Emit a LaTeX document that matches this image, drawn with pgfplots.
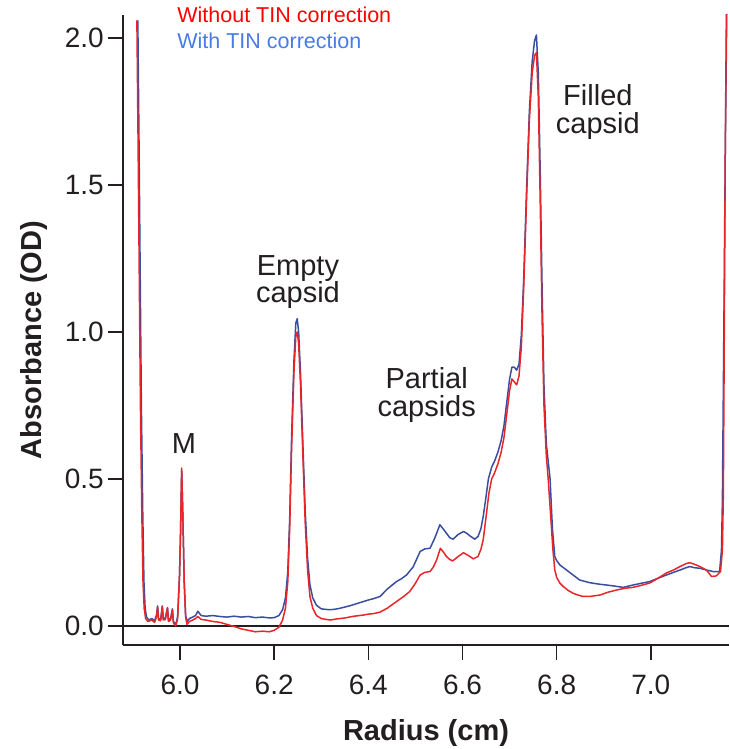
\documentclass[border=0pt]{standalone}
\usepackage{fontspec}
\setmainfont{Liberation Sans}
\usepackage{pgfplots}
\pgfplotsset{compat=1.18}
\usepackage{pgfplotstable}
\usetikzlibrary{calc}
\definecolor{redline}{RGB}{232,38,42}
\definecolor{blueline}{RGB}{58,78,160}
\definecolor{axisgray}{RGB}{35,31,32}
\definecolor{legred}{RGB}{255,0,0}
\definecolor{legblue}{RGB}{72,124,228}
\tikzset{annot/.style={font=\fontsize{29}{27.5}\selectfont, text=axisgray, inner sep=0pt, align=center}}

\pgfplotstableread{
x y
5.9085 2.060
5.9110 1.650
5.9135 1.200
5.9160 0.750
5.9190 0.380
5.9215 0.150
5.9240 0.060
5.9270 0.025
5.9320 0.015
5.9400 0.020
5.9460 0.012
5.9500 0.030
5.9525 0.065
5.9545 0.020
5.9590 0.018
5.9625 0.065
5.9645 0.020
5.9690 0.022
5.9735 0.060
5.9755 0.015
5.9800 0.020
5.9840 0.055
5.9860 0.010
5.9910 0.000
5.9950 0.025
5.9990 0.170
6.0010 0.300
6.0036 0.537
6.0060 0.380
6.0090 0.150
6.0120 0.030
6.0150 0.005
6.0200 0.015
6.0270 0.020
6.0330 0.025
6.0380 0.032
6.0450 0.022
6.0550 0.020
6.0700 0.015
6.0850 0.012
6.1000 0.005
6.1150 -0.002
6.1300 -0.010
6.1450 -0.015
6.1600 -0.020
6.1750 -0.018
6.1900 -0.020
6.2000 -0.015
6.2100 -0.005
6.2180 0.020
6.2240 0.060
6.2290 0.150
6.2330 0.330
6.2370 0.600
6.2420 0.860
6.2460 0.985
6.2490 1.000
6.2520 0.960
6.2560 0.820
6.2610 0.580
6.2660 0.350
6.2710 0.190
6.2760 0.100
6.2820 0.060
6.2900 0.035
6.3000 0.025
6.3100 0.022
6.3200 0.020
6.3300 0.023
6.3400 0.025
6.3500 0.027
6.3600 0.030
6.3700 0.033
6.3800 0.035
6.3900 0.037
6.4000 0.040
6.4120 0.042
6.4250 0.047
6.4400 0.060
6.4600 0.083
6.4750 0.100
6.4880 0.117
6.5000 0.145
6.5100 0.173
6.5200 0.182
6.5310 0.185
6.5380 0.200
6.5450 0.224
6.5530 0.264
6.5600 0.250
6.5660 0.236
6.5730 0.226
6.5790 0.221
6.5900 0.235
6.6020 0.249
6.6120 0.240
6.6230 0.228
6.6330 0.236
6.6390 0.260
6.6440 0.293
6.6500 0.370
6.6560 0.450
6.6620 0.500
6.6680 0.520
6.6750 0.550
6.6820 0.590
6.6880 0.640
6.6940 0.720
6.7000 0.800
6.7050 0.840
6.7100 0.830
6.7150 0.820
6.7200 0.850
6.7250 0.950
6.7300 1.150
6.7360 1.450
6.7420 1.720
6.7480 1.880
6.7530 1.940
6.7570 1.950
6.7610 1.800
6.7650 1.450
6.7690 1.050
6.7730 0.750
6.7780 0.580
6.7820 0.500
6.7870 0.380
6.7920 0.260
6.7960 0.190
6.8000 0.165
6.8070 0.145
6.8140 0.134
6.8250 0.120
6.8350 0.111
6.8450 0.105
6.8560 0.100
6.8700 0.100
6.8920 0.105
6.9100 0.115
6.9270 0.122
6.9450 0.128
6.9620 0.131
6.9800 0.138
6.9980 0.146
7.0150 0.162
7.0330 0.180
7.0480 0.190
7.0620 0.202
7.0750 0.212
7.0830 0.215
7.0920 0.210
7.1040 0.202
7.1180 0.190
7.1290 0.168
7.1390 0.170
7.1480 0.185
7.1520 0.258
7.1540 0.450
7.1560 1.000
7.1580 1.600
7.1610 2.200
}\redtable

\pgfplotstableread{
x y
5.9105 2.060
5.9130 1.650
5.9155 1.200
5.9180 0.750
5.9210 0.380
5.9235 0.150
5.9260 0.060
5.9290 0.030
5.9340 0.020
5.9400 0.025
5.9460 0.018
5.9500 0.035
5.9525 0.068
5.9545 0.025
5.9590 0.022
5.9625 0.068
5.9645 0.025
5.9690 0.027
5.9735 0.062
5.9755 0.020
5.9800 0.025
5.9840 0.058
5.9860 0.015
5.9910 0.005
5.9950 0.030
5.9990 0.170
6.0010 0.300
6.0036 0.530
6.0060 0.380
6.0090 0.150
6.0120 0.035
6.0150 0.015
6.0200 0.025
6.0270 0.030
6.0330 0.035
6.0380 0.050
6.0450 0.035
6.0550 0.033
6.0700 0.035
6.0850 0.032
6.1000 0.030
6.1150 0.033
6.1300 0.030
6.1450 0.032
6.1600 0.028
6.1750 0.030
6.1900 0.027
6.2000 0.028
6.2100 0.035
6.2180 0.055
6.2240 0.095
6.2290 0.185
6.2330 0.365
6.2370 0.640
6.2420 0.900
6.2460 1.030
6.2490 1.045
6.2520 1.000
6.2560 0.860
6.2610 0.620
6.2660 0.390
6.2710 0.230
6.2760 0.140
6.2820 0.095
6.2900 0.070
6.3000 0.058
6.3100 0.056
6.3200 0.055
6.3300 0.057
6.3400 0.060
6.3500 0.064
6.3600 0.068
6.3700 0.073
6.3800 0.078
6.3900 0.083
6.4000 0.088
6.4120 0.093
6.4250 0.100
6.4400 0.125
6.4600 0.151
6.4700 0.160
6.4810 0.173
6.4950 0.200
6.5100 0.253
6.5200 0.262
6.5310 0.264
6.5410 0.298
6.5520 0.344
6.5590 0.330
6.5660 0.315
6.5730 0.300
6.5800 0.295
6.5900 0.310
6.6020 0.321
6.6090 0.315
6.6160 0.306
6.6260 0.295
6.6330 0.304
6.6390 0.330
6.6440 0.372
6.6500 0.440
6.6550 0.500
6.6620 0.540
6.6680 0.560
6.6750 0.590
6.6820 0.630
6.6880 0.680
6.6940 0.760
6.7000 0.840
6.7050 0.880
6.7100 0.880
6.7150 0.870
6.7200 0.890
6.7250 0.990
6.7300 1.180
6.7360 1.480
6.7420 1.750
6.7480 1.920
6.7530 1.990
6.7570 2.010
6.7610 1.880
6.7650 1.550
6.7690 1.150
6.7730 0.820
6.7780 0.620
6.7860 0.500
6.7910 0.330
6.7960 0.236
6.8000 0.222
6.8070 0.207
6.8210 0.190
6.8350 0.173
6.8490 0.156
6.8700 0.147
6.8900 0.142
6.9060 0.139
6.9250 0.135
6.9410 0.131
6.9620 0.139
6.9800 0.145
6.9980 0.151
7.0150 0.162
7.0330 0.173
7.0480 0.182
7.0620 0.190
7.0750 0.198
7.0830 0.202
7.0920 0.198
7.1040 0.196
7.1180 0.190
7.1320 0.185
7.1460 0.185
7.1500 0.258
7.1520 0.430
7.1550 1.000
7.1580 1.600
7.1620 2.200
}\bluetable

\begin{document}
\begin{tikzpicture}
\begin{axis}[
  scale only axis, width=606pt, height=630pt,
  xmin=5.879, xmax=7.166, ymin=-0.065, ymax=2.078,
  axis x line*=bottom, axis y line*=left,
  axis line style={axisgray, line width=1.6pt},
  every tick/.style={axisgray, line width=1.6pt},
  tick align=outside, major tick length=15pt,
  xtick={6,6.2,6.4,6.6,6.8,7}, ytick={0,0.5,1,1.5,2},
  /pgf/number format/assume math mode=true,
  x tick label style={/pgf/number format/.cd, fixed, fixed zerofill, precision=1, /tikz/.cd, yshift=-15pt},
  y tick label style={/pgf/number format/.cd, fixed, fixed zerofill, precision=1, /tikz/.cd, xshift=-4pt},
  tick label style={font=\fontsize{28}{30}\selectfont, text=axisgray, inner sep=0pt},
  clip mode=individual,
  xlabel={Radius (cm)}, ylabel={Absorbance (OD)},
  label style={font=\bfseries\fontsize{29}{32}\selectfont, text=axisgray, inner sep=0pt},
  xlabel style={at={(axis description cs:0.5,-0.152)}, anchor=base},
  ylabel style={at={(axis description cs:-0.1337,0.484)}, anchor=base},
]
\draw[axisgray, line width=1.6pt] (axis cs:5.879,0) -- (axis cs:7.166,0);
\addplot[blueline, line width=1.5pt, line join=round, no markers] table[x=x, y=y] {\bluetable};
\addplot[redline, line width=1.5pt, line join=round, no markers] table[x=x, y=y] {\redtable};
\node[font=\fontsize{21.5}{24}\selectfont, text=legred, anchor=base west, inner sep=0pt] at (axis cs:5.994,2.052) {Without TIN correction};
\node[font=\fontsize{21.5}{24}\selectfont, text=legblue, anchor=base west, inner sep=0pt] at (axis cs:5.994,1.965) {With TIN correction};
\node[annot, anchor=base] at (axis cs:6.0085,0.588) {M};
\node[annot, anchor=center] at (axis cs:6.2505,1.170) {Empty\\capsid};
\node[annot, anchor=center] at (axis cs:6.524,0.786) {Partial\\capsids};
\node[annot, anchor=center] at (axis cs:6.8875,1.748) {Filled\\capsid};
\end{axis}
\pgfresetboundingbox
\path[use as bounding box] ($(current axis.south west)+(-123pt,-104pt)$) rectangle ++(729pt,749pt);
\end{tikzpicture}
\end{document}
